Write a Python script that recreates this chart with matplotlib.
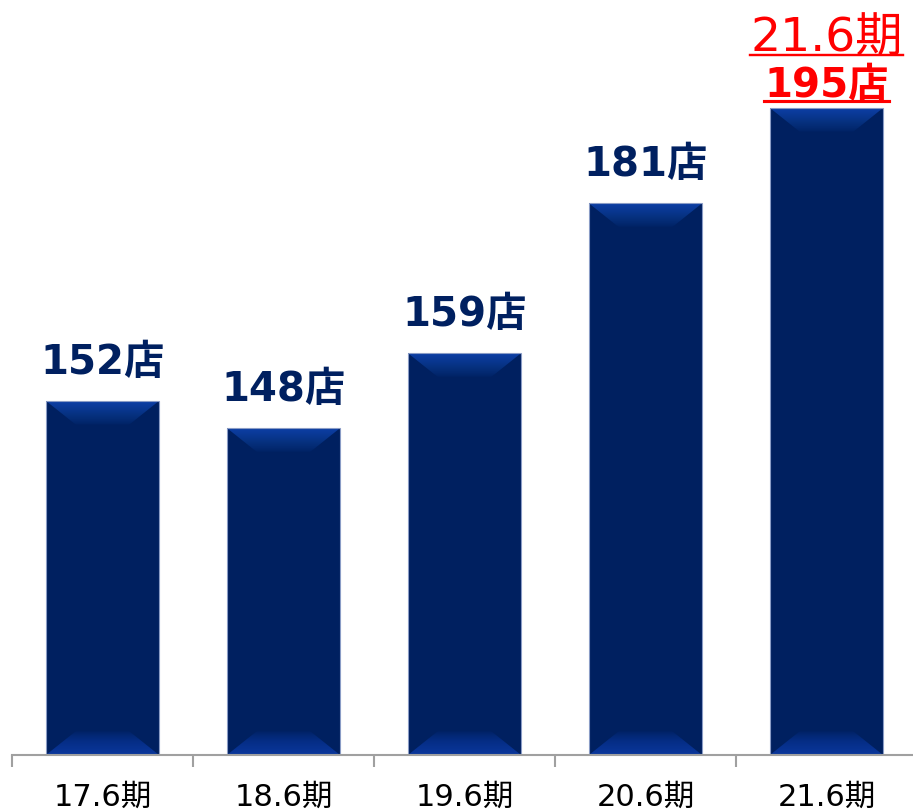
import numpy as np
import matplotlib
matplotlib.use("Agg")
import matplotlib.pyplot as plt
from matplotlib.patches import Polygon
from matplotlib.lines import Line2D
from matplotlib.colors import LinearSegmentedColormap

categories = ["17.6期", "18.6期", "19.6期", "20.6期", "21.6期"]
values = [152, 148, 159, 181, 195]
value_labels = ["152店", "148店", "159店", "181店", "195店"]
highlight_index = 4
highlight_title = "21.6期"

FAM = ["DejaVu Sans", "Noto Sans CJK JP"]
NAVY = "#002060"
RED = "#FF0000"

W, H = 913, 812
fig = plt.figure(figsize=(W / 100, H / 100), dpi=100)
ax = fig.add_axes([12 / W, 56 / H, 905 / W, 756 / H])
x = np.arange(len(categories))
bw = 0.625
ax.set_xlim(-0.5, len(categories) - 0.5)
ax.set_ylim(100, 211)

bars = ax.bar(x, [v - 100 for v in values], bottom=100, width=bw, color=NAVY,
              edgecolor="none", linewidth=0, zorder=2)

# pixel -> data conversion for bevels
px_x = (len(categories)) / 905.0
px_y = 111 / 756.0
bev_x = 30 * px_x
bev_y = 24 * px_y

grad = np.linspace(0, 1, 256).reshape(-1, 1) ** 0.8
cm_top = LinearSegmentedColormap.from_list("t", ["#002162", "#06317f", "#0d3fa6"])
cm_bot = LinearSegmentedColormap.from_list("b", ["#002162", "#052d85", "#0a379c"])
for xi, v in zip(x, values):
    x0, x1 = xi - bw / 2, xi + bw / 2
    # top bevel
    top = Polygon([[x0, v], [x1, v], [x1 - bev_x, v - bev_y], [x0 + bev_x, v - bev_y]],
                  closed=True, facecolor="none", edgecolor="none")
    ax.add_patch(top)
    im = ax.imshow(grad, extent=[x0, x1, v - bev_y, v], origin="lower", cmap=cm_top,
                   aspect="auto", zorder=3, interpolation="bilinear")
    im.set_clip_path(top)
    # bottom bevel
    bot = Polygon([[x0, 100], [x1, 100], [x1 - bev_x, 100 + bev_y], [x0 + bev_x, 100 + bev_y]],
                  closed=True, facecolor="none", edgecolor="none")
    ax.add_patch(bot)
    im2 = ax.imshow(grad[::-1], extent=[x0, x1, 100, 100 + bev_y], origin="lower", cmap=cm_bot,
                    aspect="auto", zorder=3, interpolation="bilinear")
    im2.set_clip_path(bot)
    # thin light outline
    ax.add_patch(Polygon([[x0, 100], [x0, v], [x1, v], [x1, 100]], closed=False,
                         facecolor="none", edgecolor="#8a9cc6", linewidth=0.8, zorder=4))

ax.set_xlim(-0.5, len(categories) - 0.5)
ax.set_ylim(100, 211)

# spines and ticks
for s in ["left", "right", "top"]:
    ax.spines[s].set_visible(False)
ax.spines["bottom"].set_color("#a0a0a0")
ax.spines["bottom"].set_linewidth(1.5)
ax.spines["bottom"].set_zorder(5)
ax.set_yticks([])
ax.set_xticks(x)
ax.set_xticklabels(categories, fontsize=22, family=FAM, color="black")
ax.tick_params(axis="x", which="major", length=0, pad=19)
ax.set_xticks(np.arange(len(categories) + 1) - 0.5, minor=True)
ax.tick_params(axis="x", which="minor", length=8.6, width=1.5, color="#a0a0a0", direction="out")

texts_to_underline = []
for i, (xi, v, lab) in enumerate(zip(x, values, value_labels)):
    if i == highlight_index:
        t1 = ax.annotate(lab, (xi, v), xytext=(0, 8.6), textcoords="offset points",
                         ha="center", va="baseline", fontsize=29, fontweight="bold",
                         family=FAM, color=RED)
        t2 = ax.annotate(highlight_title, (xi, v), xytext=(0, 41.5), textcoords="offset points",
                         ha="center", va="baseline", fontsize=34, family=FAM, color=RED)
        texts_to_underline += [(t1, 2.6), (t2, 2.0)]
    else:
        ax.annotate(lab, (xi, v), xytext=(0, 20.2), textcoords="offset points",
                    ha="center", va="baseline", fontsize=29, fontweight="bold",
                    family=FAM, color=NAVY)

fig.canvas.draw()
r = fig.canvas.get_renderer()
for t, lw in texts_to_underline:
    bb = t.get_window_extent(renderer=r)
    ax_pt = ax.transData.transform(t.xy)
    off = t.xyann[1] * 100 / 72.0
    base = ax_pt[1] + off
    yline = base - 5
    fig.add_artist(Line2D([bb.x0 / W, bb.x1 / W], [yline / H, yline / H], color=RED,
                          linewidth=lw * 72 / 100 * 1.2, transform=fig.transFigure))

fig.savefig("out.png", dpi=100)
